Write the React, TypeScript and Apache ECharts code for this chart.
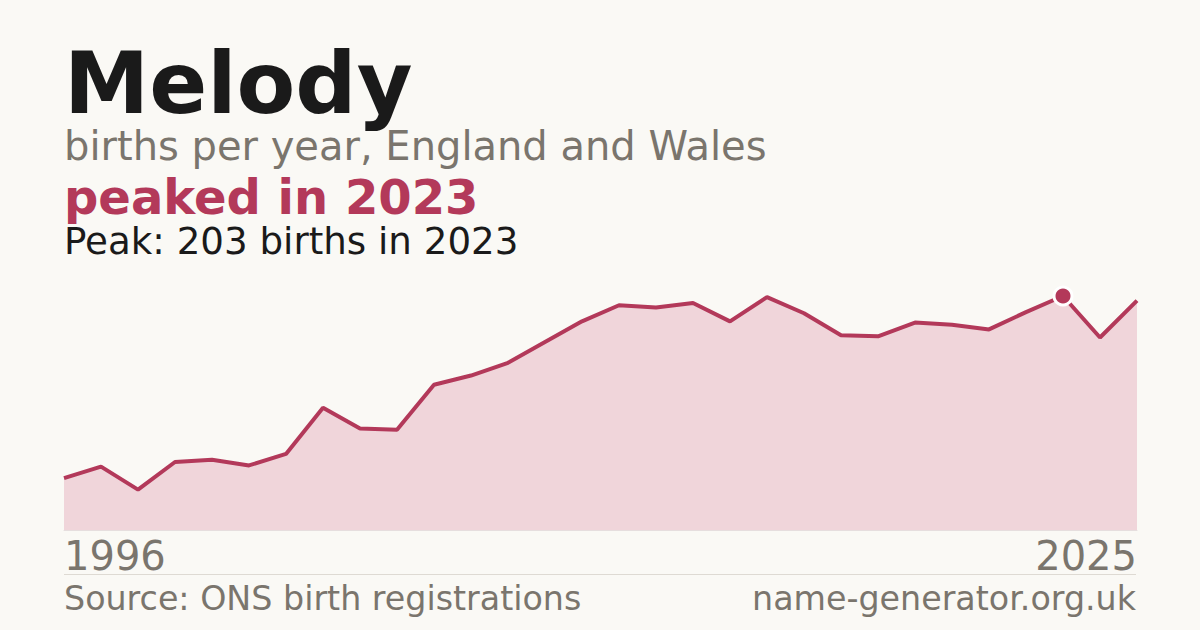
import React, { useEffect, useRef } from 'react';
import * as echarts from 'echarts';

const years: string[] = [
  '1996', '1997', '1998', '1999', '2000', '2001', '2002', '2003', '2004', '2005',
  '2006', '2007', '2008', '2009', '2010', '2011', '2012', '2013', '2014', '2015',
  '2016', '2017', '2018', '2019', '2020', '2021', '2022', '2023', '2024', '2025',
];

const births: number[] = [
  45, 55, 35, 59, 61, 56, 66, 106, 88, 87,
  126, 134, 145, 163, 181, 195, 193, 197, 181, 202,
  188, 169, 168, 180, 178, 174, 189, 203, 167, 199,
];

const peakYear = '2023';
const peakValue = 203;

const RED = '#b3395a';
const GREY = '#7a756d';
const INK = '#1a1a1a';
const FONT = '"DejaVu Sans", sans-serif';

const App: React.FC = () => {
  const chartRef = useRef<HTMLDivElement>(null);

  useEffect(() => {
    document.body.style.margin = '0';
    if (!chartRef.current) return;
    const chart = echarts.init(chartRef.current, null, { renderer: 'svg' });
    const last = years.length - 1;
    const peakIndex = years.indexOf(peakYear);

    const option: any = {
      animation: false,
      backgroundColor: '#faf9f5',
      textStyle: { fontFamily: FONT },
      grid: { left: 64, right: 63, top: 296, bottom: 100 },
      xAxis: {
        type: 'category',
        data: years,
        boundaryGap: false,
        axisLine: { show: true, lineStyle: { color: '#e6dede', width: 1 } },
        axisTick: { show: false },
        splitLine: { show: false },
        axisLabel: {
          interval: (i: number) => i === 0 || i === last,
          color: GREY,
          fontSize: 40,
          fontFamily: FONT,
          margin: 6,
          alignMinLabel: 'left',
          alignMaxLabel: 'right',
        },
      },
      yAxis: {
        type: 'value',
        min: 0,
        max: peakValue,
        show: false,
        splitLine: { show: false },
      },
      series: [
        {
          type: 'line',
          data: births,
          symbol: 'none',
          lineStyle: { color: RED, width: 4 },
          areaStyle: { color: '#f0d5da', opacity: 1 },
          markPoint: {
            symbol: 'circle',
            symbolSize: 18,
            label: { show: false },
            itemStyle: { color: RED, borderColor: '#ffffff', borderWidth: 3 },
            data: [{ coord: [peakIndex, births[peakIndex]] }],
          },
        },
      ],
      graphic: [
        {
          type: 'text',
          left: 64,
          top: 40,
          style: { text: 'Melody', fill: INK, font: `bold 85.6px ${FONT}` },
        },
        {
          type: 'text',
          left: 64,
          top: 126,
          style: { text: 'births per year, England and Wales', fill: GREY, font: `40px ${FONT}` },
        },
        {
          type: 'text',
          left: 64,
          top: 173,
          style: { text: `peaked in ${peakYear}`, fill: RED, font: `bold 48px ${FONT}` },
        },
        {
          type: 'text',
          left: 64,
          top: 222,
          style: { text: `Peak: ${peakValue} births in ${peakYear}`, fill: INK, font: `37.2px ${FONT}` },
        },
        {
          type: 'line',
          shape: { x1: 64, y1: 574.5, x2: 1136, y2: 574.5 },
          style: { stroke: '#dedad3', lineWidth: 1 },
        },
        {
          type: 'text',
          left: 64,
          top: 582,
          style: { text: 'Source: ONS birth registrations', fill: GREY, font: `33.3px ${FONT}` },
        },
        {
          type: 'text',
          right: 64,
          top: 582,
          style: { text: 'name-generator.org.uk', fill: GREY, font: `33.3px ${FONT}` },
        },
      ],
    };

    chart.setOption(option);
    return () => {
      chart.dispose();
    };
  }, []);

  return <div ref={chartRef} style={{ width: 1200, height: 630 }} />;
};

export default App;
